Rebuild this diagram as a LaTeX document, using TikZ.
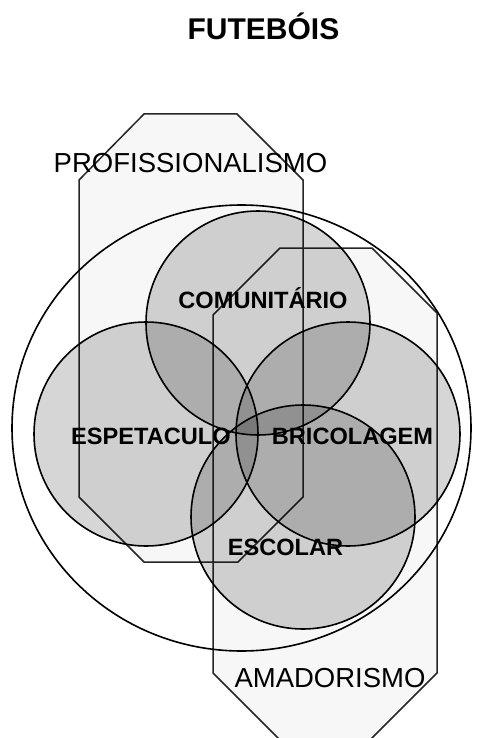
\documentclass[tikz,border=0pt]{standalone}
\usetikzlibrary{shapes.geometric}
\usepackage{fontspec}
\setmainfont{Liberation Sans}
\begin{document}
\begin{tikzpicture}[x=1pt,y=-1pt,
  octfill/.style={fill=black!3},
  octline/.style={draw=black!85,line width=1.5pt,line join=miter},
  setcircle/.style={circle,draw=black,line width=1.6pt,fill=black,fill opacity=0.16,draw opacity=1,minimum size=224pt,inner sep=0pt},
  biglabel/.style={font=\fontsize{23.6}{26}\selectfont\bfseries,inner sep=0pt,anchor=base},
  reglabel/.style={font=\fontsize{27.5}{30}\selectfont,inner sep=0pt,anchor=base}]
\useasboundingbox (0,0) rectangle (481,738);
\clip (0,0) rectangle (481,738);
% octagons
\path[octfill] (144,114) -- (237,114) -- (303,180) -- (303,497) -- (238,562) -- (144,562) -- (79,497) -- (79,180) -- cycle;
\path[octfill] (280,248) -- (372,248) -- (437,313) -- (437,673) -- (371,739) -- (279,739) -- (213,673) -- (213,315) -- cycle;
\draw[octline] (144,114) -- (237,114) -- (303,180) -- (303,497) -- (238,562) -- (144,562) -- (79,497) -- (79,180) -- cycle;
\draw[octline] (280,248) -- (372,248) -- (437,313) -- (437,673) -- (371,739) -- (279,739) -- (213,673) -- (213,315) -- cycle;
% big ellipse
\node[ellipse,draw=black,line width=1.6pt,minimum width=459pt,minimum height=446pt,inner sep=0pt] (ell) at (241.5,428) {};
% circles
\node[setcircle] (com) at (258,323) {};
\node[setcircle] (esp) at (146,434) {};
\node[setcircle] (bri) at (348,434) {};
\node[setcircle] (esc) at (303,517) {};
% labels
\node[font=\fontsize{30}{32}\selectfont\bfseries,inner sep=0pt,anchor=base] (title) at (263.5,40) {FUTEBÓIS};
\node[reglabel] (prof) at (190.5,172) {PROFISSIONALISMO};
\node[reglabel] (amad) at (330,687) {AMADORISMO};
\node[biglabel] (lcom) at (263,308) {COMUNITÁRIO};
\node[biglabel] (lesp) at (151,444) {ESPETACULO};
\node[biglabel] (lbri) at (352.5,444) {BRICOLAGEM};
\node[biglabel] (lesc) at (285.5,555) {ESCOLAR};
\end{tikzpicture}
\end{document}
